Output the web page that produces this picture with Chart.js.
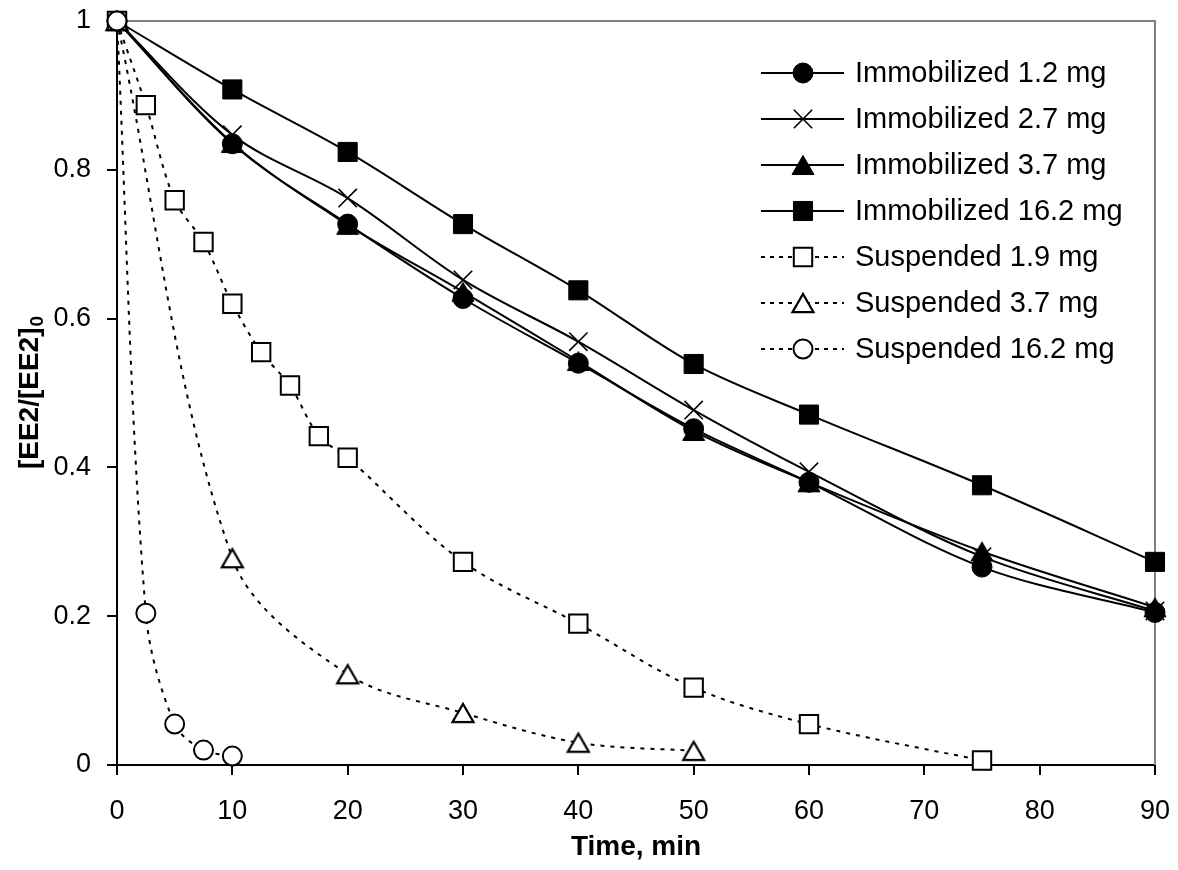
<!DOCTYPE html>
<html>
<head>
<meta charset="utf-8">
<script src="https://cdn.jsdelivr.net/npm/chart.js@4.4.1/dist/chart.umd.min.js"></script>
<style>
  body { margin: 0; background: #fff; }
  #wrap { width: 1178px; height: 870px; }
</style>
</head>
<body>
<div id="wrap"><canvas id="myChart" width="1178" height="870"></canvas></div>
<script>
// time points (min)
var timesImm = [0, 10, 20, 30, 40, 50, 60, 75, 90];
var timesSusp19 = [0, 2.5, 5, 7.5, 10, 12.5, 15, 17.5, 20, 30, 40, 50, 60, 75];
var timesSusp37 = [0, 10, 20, 30, 40, 50];
var timesSusp162 = [0, 2.5, 5, 7.5, 10];

// [EE2]/[EE2]0
var imm12 = [1, 0.835, 0.727, 0.627, 0.54, 0.452, 0.38, 0.266, 0.205];
var imm27 = [1, 0.847, 0.762, 0.652, 0.569, 0.477, 0.394, 0.28, 0.207];
var imm37 = [1, 0.836, 0.726, 0.636, 0.543, 0.449, 0.38, 0.287, 0.212];
var imm162 = [1, 0.908, 0.824, 0.727, 0.638, 0.539, 0.471, 0.376, 0.273];
var susp19 = [1, 0.887, 0.759, 0.703, 0.62, 0.555, 0.51, 0.442, 0.413, 0.273, 0.19, 0.104, 0.055, 0.006];
var susp37 = [1, 0.278, 0.122, 0.07, 0.03, 0.019];
var susp162 = [1, 0.204, 0.055, 0.02, 0.012];

var xTicks = [0, 10, 20, 30, 40, 50, 60, 70, 80, 90];
var yTicks = [0, 0.2, 0.4, 0.6, 0.8, 1];

var FONT = "'Liberation Sans', Arial, sans-serif";

// triangle marker centred on its box (like Excel), not on its circumcentre
function triMarker(filled) {
    var cv = document.createElement('canvas');
    cv.width = 32; cv.height = 32;
    var c = cv.getContext('2d');
    var w = filled ? 22 : 21, h = w * 0.866;
    c.beginPath();
    c.moveTo(16 - w / 2, 16 + h / 2);
    c.lineTo(16, 16 - h / 2);
    c.lineTo(16 + w / 2, 16 + h / 2);
    c.closePath();
    c.fillStyle = filled ? '#000' : '#fff';
    c.fill();
    c.strokeStyle = '#000';
    c.lineWidth = filled ? 1 : 2.2;
    c.stroke();
    return cv;
}

function pts(xs, ys) {
    return xs.map(function (x, i) { return { x: x, y: ys[i] }; });
}

function series(label, xs, ys, style, radius, filled, dashed, idx) {
    return {
        label: label,
        data: pts(xs, ys),
        borderColor: '#000',
        borderWidth: 2,
        borderDash: dashed ? [4, 6] : [],
        tension: 0.33,
        pointStyle: style,
        pointRadius: radius,
        pointHoverRadius: radius,
        pointBackgroundColor: filled ? '#000' : '#fff',
        pointBorderColor: '#000',
        pointBorderWidth: style === 'crossRot' ? 1.6 : (filled ? 1 : 2),
        fill: false,
        clip: false,
        order: -idx // later series on top, like the original
    };
}

// grey frame on top / right of plot area
var frame = {
    id: 'frame',
    beforeDatasetsDraw: function (chart) {
        var a = chart.chartArea, c = chart.ctx;
        c.save();
        c.strokeStyle = '#808080';
        c.lineWidth = 2;
        c.beginPath();
        c.moveTo(a.left, a.top);
        c.lineTo(a.right, a.top);
        c.lineTo(a.right, a.bottom);
        c.stroke();
        c.restore();
    }
};

// y title with a real subscript
var yTitle = {
    id: 'yTitle',
    afterDraw: function (chart) {
        var a = chart.chartArea, c = chart.ctx;
        var main = '[EE2/[EE2]', sub = '0';
        c.save();
        c.fillStyle = '#000';
        c.font = 'bold 28px ' + FONT;
        var w1 = c.measureText(main).width;
        c.font = 'bold 19px ' + FONT;
        var w2 = c.measureText(sub).width;
        c.translate(28, (a.top + a.bottom) / 2);
        c.rotate(-Math.PI / 2);
        c.textBaseline = 'alphabetic';
        c.textAlign = 'left';
        var x0 = -(w1 + w2) / 2;
        c.font = 'bold 28px ' + FONT;
        c.fillText(main, x0, 10);
        c.font = 'bold 19px ' + FONT;
        c.fillText(sub, x0 + w1 + 1, 15);
        c.restore();
    }
};

// legend inside the plot: line sample with marker
var lineLegend = {
    id: 'lineLegend',
    afterDatasetsDraw: function (chart) {
        var a = chart.chartArea, c = chart.ctx;
        var x0 = a.right - 394, x1 = a.right - 311, xm = a.right - 352, xt = a.right - 300;
        chart.data.datasets.forEach(function (ds, i) {
            var y = a.top + 52 + i * 46;
            c.save();
            c.strokeStyle = '#000';
            c.lineWidth = 2;
            c.setLineDash(ds.borderDash.length ? [4, 5] : []);
            c.beginPath();
            c.moveTo(x0, y);
            c.lineTo(x1, y);
            c.stroke();
            c.setLineDash([]);
            c.fillStyle = ds.pointBackgroundColor;
            c.strokeStyle = ds.pointBorderColor;
            c.lineWidth = ds.pointBorderWidth;
            Chart.helpers.drawPoint(c, { pointStyle: ds.pointStyle, radius: ds.pointRadius, rotation: 0, borderWidth: ds.pointBorderWidth }, xm, y);
            c.fillStyle = '#000';
            c.font = '29px ' + FONT;
            c.textBaseline = 'middle';
            c.textAlign = 'left';
            c.fillText(ds.label, xt, y + 1);
            c.restore();
        });
    }
};

var ctx = document.getElementById('myChart').getContext('2d');

var myChart = new Chart(ctx, {
    type: 'line',
    data: {
        datasets: [
            series('Immobilized 1.2 mg', timesImm, imm12, 'circle', 10, true, false, 0),
            series('Immobilized 2.7 mg', timesImm, imm27, 'crossRot', 13, true, false, 1),
            series('Immobilized 3.7 mg', timesImm, imm37, triMarker(true), 12, true, false, 2),
            series('Immobilized 16.2 mg', timesImm, imm162, 'rect', 13.5, true, false, 3),
            series('Suspended 1.9 mg', timesSusp19, susp19, 'rect', 13, false, true, 4),
            series('Suspended 3.7 mg', timesSusp37, susp37, triMarker(false), 12, false, true, 5),
            series('Suspended 16.2 mg', timesSusp162, susp162, 'circle', 9.5, false, true, 6)
        ]
    },
    options: {
        responsive: false,
        devicePixelRatio: 1,
        animation: false,
        layout: { autoPadding: false, padding: { left: 0, right: 23, top: 21, bottom: 0 } },
        scales: {
            x: {
                type: 'linear',
                min: 0,
                max: 90,
                afterFit: function (s) { s.height = 105; s.paddingLeft = 0; s.paddingRight = 0; },
                afterBuildTicks: function (s) { s.ticks = xTicks.map(function (v) { return { value: v }; }); },
                grid: { drawOnChartArea: false, tickLength: 10, color: '#000', lineWidth: 2 },
                border: { color: '#000', width: 2 },
                ticks: { color: '#000', font: { family: FONT, size: 27 }, padding: 20 },
                title: {
                    display: true,
                    text: 'Time, min',
                    color: '#000',
                    font: { family: FONT, size: 28, weight: 'bold' },
                    padding: { top: 0, bottom: 6 }
                }
            },
            y: {
                min: 0,
                max: 1,
                afterFit: function (s) { s.width = 117; s.paddingTop = 0; s.paddingBottom = 0; },
                afterBuildTicks: function (s) { s.ticks = yTicks.map(function (v) { return { value: v }; }); },
                grid: { drawOnChartArea: false, tickLength: 10, color: '#000', lineWidth: 2 },
                border: { color: '#000', width: 2 },
                ticks: {
                    color: '#000',
                    font: { family: FONT, size: 27 },
                    padding: 16,
                    callback: function (v) { return String(Math.round(v * 10) / 10); }
                }
            }
        },
        plugins: {
            legend: { display: false },
            tooltip: { enabled: false }
        }
    },
    plugins: [frame, yTitle, lineLegend]
});
</script>
</body>
</html>
